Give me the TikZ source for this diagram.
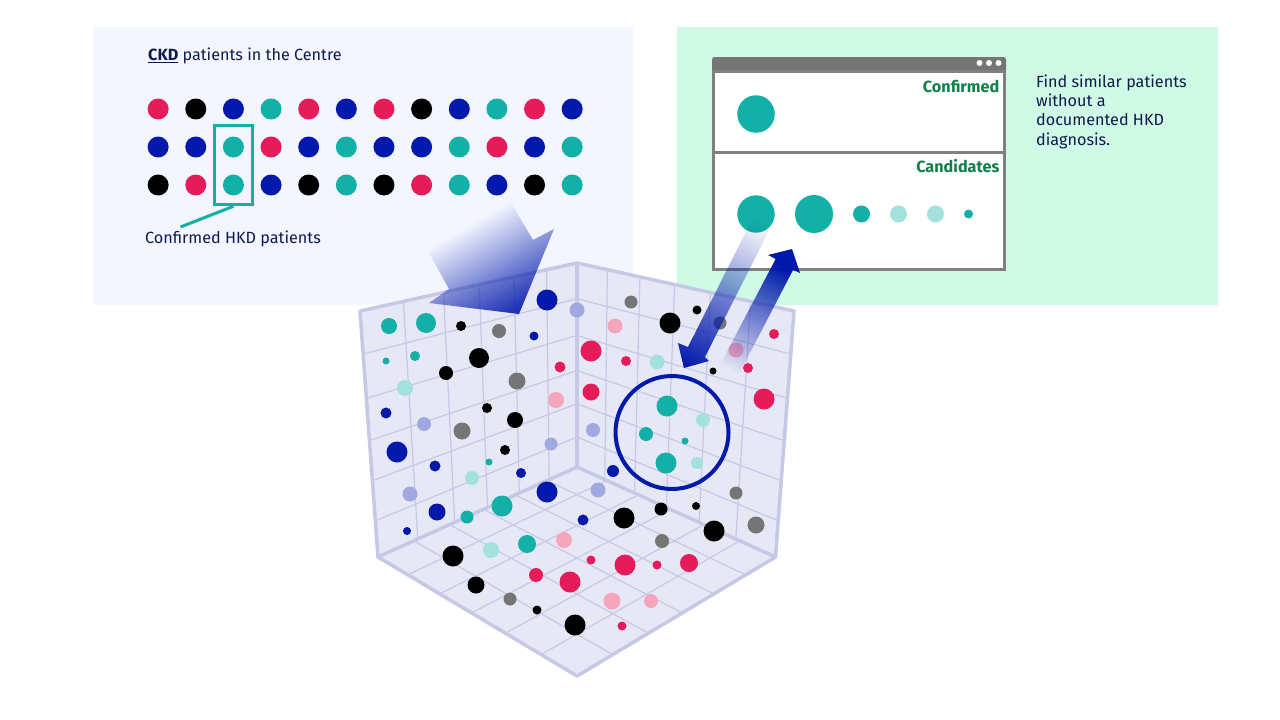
\documentclass[tikz,border=0pt]{standalone}
\usepackage{fontspec}
\setmainfont{Fira Sans}
\usetikzlibrary{calc,fadings,positioning}
\definecolor{inkblue}{HTML}{0E1A4D}
\definecolor{okgreen}{HTML}{0E8048}
\definecolor{teal}{HTML}{12B0A6}
\definecolor{ltteal}{HTML}{A3E2DC}
\definecolor{crimson}{HTML}{E61B5A}
\definecolor{ltpink}{HTML}{F5A5BC}
\definecolor{navy}{HTML}{0219AC}
\definecolor{ltblue}{HTML}{A0A8E2}
\definecolor{midgrey}{HTML}{757575}
\definecolor{frame}{HTML}{808080}
\definecolor{wallfill}{HTML}{E6E8F5}
\definecolor{wallline}{HTML}{C5C9E6}
\definecolor{bluepanel}{HTML}{F3F6FF}
\definecolor{greenpanel}{HTML}{CFFAE5}
\tikzfading[name=fadetip, top color=transparent!100, bottom color=transparent!0]
\begin{document}
\begin{tikzpicture}[
  x=1pt, y=-1pt,
  panel/.style={rectangle, draw=none, anchor=north west, inner sep=0pt, outer sep=0pt},
  pane/.style={rectangle, draw=frame, line width=3pt, fill=white, anchor=north west, inner sep=0pt, outer sep=0pt},
  dot/.style={circle, draw=none, inner sep=0pt, outer sep=0pt},
  caption/.style={font=\fontsize{16.2}{19.3}\selectfont, text=inkblue, inner sep=0pt, align=left},
  panetitle/.style={font=\fontsize{16.2}{19}\selectfont\bfseries, text=okgreen, inner sep=0pt, anchor=east},
  gridline/.style={wallline, line width=1.2pt},
  walledge/.style={wallline, line width=3.5pt, line join=round},
  fadearrow/.style={fill=navy, path fading=fadetip, fit fading=false}
]
  \useasboundingbox (0,0) rectangle (1280,720);
  \fill[white] (0,0) rectangle (1280,720);

  % background panels
  \node[panel, fill=bluepanel, minimum width=540pt, minimum height=278pt] (leftpanel) at (93,27) {};
  \node[panel, fill=greenpanel, minimum width=541pt, minimum height=278pt] (rightpanel) at (677,27) {};

  % left panel
  \node[caption, anchor=west] (ckdtitle) at (148,55.5) {\underline{\textbf{CKD}} patients in the Centre};
  \foreach \c [count=\i] in {crimson,black,navy,teal,crimson,navy,crimson,black,navy,teal,crimson,navy}
    \node[dot, fill=\c, minimum size=21pt] (ra\i) at ({120.5+37.64*\i},109) {};
  \foreach \c [count=\i] in {navy,navy,teal,crimson,navy,teal,navy,navy,teal,crimson,navy,teal}
    \node[dot, fill=\c, minimum size=21pt] (rb\i) at ({120.5+37.64*\i},147) {};
  \foreach \c [count=\i] in {black,crimson,teal,navy,black,teal,black,crimson,teal,navy,black,teal}
    \node[dot, fill=\c, minimum size=21pt] (rc\i) at ({120.5+37.64*\i},185) {};
  \node[rectangle, draw=teal, line width=3.5pt, inner sep=0pt, minimum width=38pt, minimum height=79pt] (hkdbox) at (233.5,165) {};
  \node[caption, anchor=west] (hkdlabel) at (145,238.5) {Confirmed HKD patients};
  \coordinate (leaderend) at (180.5,227);
  \draw[teal, line width=3pt] (hkdbox.south) -- (leaderend);

  % browser window
  \fill[midgrey, rounded corners=2.5pt] (712,57) rectangle (1006,73);
  \node[pane, minimum width=291pt, minimum height=81pt] (confirmedpane) at (713.5,71) {};
  \node[pane, minimum width=291pt, minimum height=117pt] (candidatepane) at (713.5,152) {};
  \foreach \x [count=\i] in {979.5,989,998.5}
    \node[dot, fill=white, minimum size=6pt] (bar\i) at (\x,63) {};
  \node[panetitle] (confirmedtitle) at (999.5,86) {Confirmed};
  \node[panetitle] (candidatetitle) at (999.5,166.5) {Candidates};
  \node[dot, fill=teal, minimum size=37.5pt] (conf) at (756,114) {};
  \foreach \x/\r/\c [count=\i] in {756/18.7/teal,814/19/teal,861.5/8.5/teal,898.5/8.5/ltteal,935.5/8.5/ltteal,968.5/4.5/teal}
    \node[dot, fill=\c, minimum size=2*\r pt] (cand\i) at (\x,214) {};
  \node[caption, anchor=north west] (findtext) at (1036,74.5) {Find similar patients\\without a\\documented HKD\\diagnosis.};

  % cube corners
  \coordinate (lt) at (360,311);
  \coordinate (mt) at (577,263);
  \coordinate (rt) at (794,311);
  \coordinate (lb) at (378,557);
  \coordinate (mb) at (577,467);
  \coordinate (rb) at (775.5,557);
  \coordinate (fr) at (577,676);
  \fill[wallfill] (lt) -- (mt) -- (rt) -- (rb) -- (fr) -- (lb) -- cycle;

  % wall and floor grid
  \foreach \t in {.2,.385,.55,.71,.86} {
    \draw[gridline] ($(lt)!\t!(mt)$) -- ($(lb)!\t!(mb)$);
    \draw[gridline] ($(rt)!\t!(mt)$) -- ($(rb)!\t!(mb)$);
  }
  \foreach \t in {.175,.355,.527,.69,.853} {
    \draw[gridline] ($(lt)!\t!(lb)$) -- ($(mt)!\t!(mb)$);
    \draw[gridline] ($(rt)!\t!(rb)$) -- ($(mt)!\t!(mb)$);
  }
  \foreach \t in {.15,.31,.47,.64,.82} {
    \draw[gridline] ($(lb)!\t!(fr)$) -- ($(mb)!\t!(rb)$);
    \draw[gridline] ($(rb)!\t!(fr)$) -- ($(mb)!\t!(lb)$);
  }
  \draw[walledge] (lb) -- (lt) -- (mt) -- (rt) -- (rb) -- (fr) -- cycle;
  \draw[walledge] (mt) -- (mb);
  \draw[walledge] (lb) -- (mb) -- (rb);

  % patients in the cube
  \foreach \x/\y/\r/\c [count=\i] in {
    389/326/8/teal, 426/323/10/teal, 461/326/5/black, 499/331/7/midgrey, 534/336/4.5/navy,
    547/300/10.5/navy, 577/310/7.5/ltblue, 386/361/3.5/teal, 415/356/5/teal, 479/358/10/black,
    446/373/7/black, 517/381/8.5/midgrey, 560/367/5.5/crimson, 405/388/8/ltteal, 556/400/8/ltpink,
    386/413/5.5/navy, 424/424/7/ltblue, 487/408/5/black, 515/420/8/black, 462/431/8.5/midgrey,
    397/452/10.5/navy, 435/466/5.5/navy, 505/450/5/black, 551/444/6.5/ltblue, 489/462/3.5/teal,
    521/473/5/navy, 472/478/7/ltteal, 410/494/7.5/ltblue, 437/512/8.5/navy, 467/517/6.5/teal,
    502/506/10.5/teal, 547/492/10.5/navy, 407/531/4/navy,
    631/302/6.5/midgrey, 615/326/7.5/ltpink, 670/323/10.5/black, 697/310/4.5/black, 720/323/6.5/midgrey,
    774/334/5/crimson, 591/351/10.5/crimson, 626/361/5/crimson, 657/362/7.5/ltteal, 736/350/7.5/ltpink,
    748/368/5/crimson, 713/371/3.5/black, 591/392/8.5/crimson, 764/399/10.5/crimson, 593/430/7/ltblue,
    667/406/10.5/teal, 703/420/7/ltteal, 646/434/7/teal, 685/441/3.5/teal, 666/463/10.5/teal,
    697/463/6/ltteal, 613/471/6/navy, 598/490/7.5/ltblue, 661/509/6.5/black, 696/506/4/black,
    736/493/6.5/midgrey, 756/525/8.5/midgrey, 624/518/10.5/black, 714/531/10.5/black, 583/520/5.5/navy,
    662/541/7/midgrey,
    453/556/10.5/black, 491/550/8/ltteal, 527/544/9/teal, 564/540/8/ltpink, 591/560/4.5/crimson,
    625/565/10.5/crimson, 657/565/4.5/crimson, 689/563/9/crimson, 536/575/7/crimson, 570/582/10.5/crimson,
    476/585/8.5/black, 510/599/6.5/midgrey, 612/601/8.5/ltpink, 651/601/7/ltpink, 537/610/4.5/black,
    575/625/10.5/black, 622/626/4.5/crimson}
    \node[dot, fill=\c, minimum size=2*\r pt] (pt\i) at (\x,\y) {};

  % similar patients ring
  \node[circle, draw=navy, line width=4pt, inner sep=0pt, minimum size=113pt] (ring) at (672,432.5) {};

  % gradient arrows
  \fill[fadearrow, fading transform={shift={(496,273)}, rotate=30, scale=2.2}] (507.5,197) -- (533,240) -- (554,229) -- (519,314) -- (429,303) -- (449,289) -- (418,233) -- cycle;
  \fill[fadearrow, fading transform={shift={(724,294)}, rotate=-27, scale=3.3}] (758,208) -- (776,217) -- (705,357) -- (709,361) -- (684,368) -- (678,343) -- (688,347) -- cycle;
  \fill[fadearrow, fading transform={shift={(756.5,319)}, rotate=153, scale=2.3}] (720,365) -- (775.6,259) -- (768,255) -- (792,249) -- (800,273) -- (793,270) -- (738,376) -- cycle;
\end{tikzpicture}
\end{document}
